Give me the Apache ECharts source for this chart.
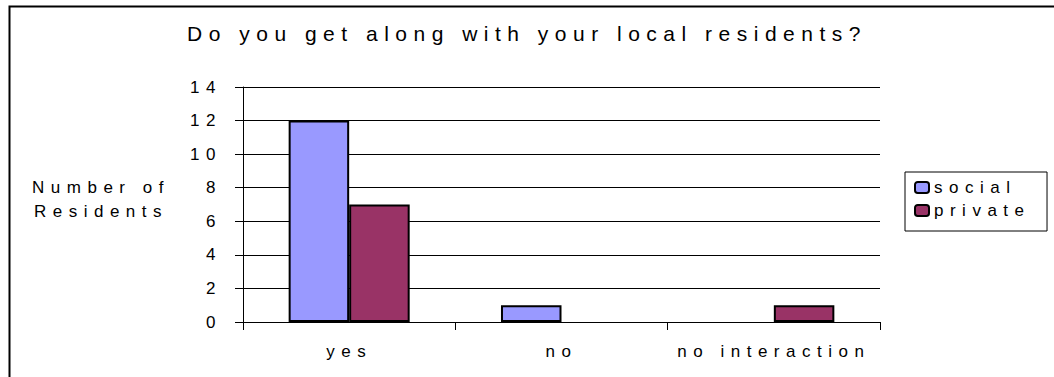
<!DOCTYPE html>
<html>
<head>
<meta charset="utf-8">
<script src="https://cdn.jsdelivr.net/npm/echarts@6/dist/echarts.min.js"></script>
<style>
  html, body { margin: 0; padding: 0; background: #fff; }
  #chart { width: 1054px; height: 377px; }
  /* wide tracking on every label, as in the spreadsheet-style chart */
  #chart svg text { letter-spacing: 6.5px; }
</style>
</head>
<body>
<div id="chart"></div>
<script>
const chartTitle = 'Do you get along with your local residents?';
const yAxisTitle = 'Number of\nResidents';
const categories = ['yes', 'no', 'no interaction'];
const seriesNames = ['social', 'private'];
const socialValues = [12, 1, 0];
const privateValues = [7, 0, 1];
const yTicks = { min: 0, max: 14, interval: 2 };

const FONT = "'Liberation Sans', Arial, sans-serif";
const INK = '#000';

// zero-height bars get no outline, so nothing is drawn for them
const asBars = (values) => values.map(v => (
  v === 0 ? { value: v, itemStyle: { borderWidth: 0 } } : v
));

const chart = echarts.init(document.getElementById('chart'), null, { renderer: 'svg' });

chart.setOption({
  animation: false,
  backgroundColor: '#fff',
  textStyle: { fontFamily: FONT, color: INK },
  title: {
    text: chartTitle,
    left: 'center',
    top: 18,
    textStyle: { fontFamily: FONT, fontSize: 21, fontWeight: 'normal', color: INK }
  },
  graphic: [
    {
      // outer frame of the chart area
      type: 'rect',
      left: 7, top: 4,
      shape: { width: 1200, height: 600 },
      style: { fill: 'none', stroke: INK, lineWidth: 2 },
      silent: true, z: 100
    },
    {
      // value-axis caption, two lines, left of the tick labels
      type: 'text',
      x: 101, y: 199,
      style: {
        text: yAxisTitle,
        align: 'center',
        verticalAlign: 'middle',
        lineHeight: 24,
        font: "17px 'Liberation Sans', Arial, sans-serif",
        fill: INK
      },
      silent: true
    }
  ],
  legend: {
    orient: 'vertical',
    left: 905,
    top: 172,
    padding: [7, 62, 12, 9],
    itemGap: 6,
    itemWidth: 14,
    itemHeight: 11,
    borderColor: INK,
    borderWidth: 1,
    textStyle: { fontFamily: FONT, fontSize: 17, color: INK },
    data: seriesNames
  },
  grid: { left: 243, right: 174, top: 87, bottom: 55, containLabel: false },
  xAxis: {
    type: 'category',
    data: categories,
    axisLine: { lineStyle: { color: INK, width: 1 } },
    axisTick: { show: true, length: 8, alignWithLabel: false, lineStyle: { color: INK } },
    axisLabel: { margin: 21, fontFamily: FONT, fontSize: 17, color: INK }
  },
  yAxis: {
    type: 'value',
    min: yTicks.min,
    max: yTicks.max,
    interval: yTicks.interval,
    axisLine: { show: true, lineStyle: { color: INK, width: 1 } },
    axisTick: { show: true, length: 8, lineStyle: { color: INK } },
    axisLabel: { margin: 21, fontFamily: FONT, fontSize: 17, color: INK },
    splitLine: { show: true, lineStyle: { color: INK, width: 1 } }
  },
  series: [
    {
      name: seriesNames[0],
      type: 'bar',
      data: asBars(socialValues),
      barGap: '0%',
      barCategoryGap: '43%',
      itemStyle: { color: '#9999FF', borderColor: INK, borderWidth: 2 }
    },
    {
      name: seriesNames[1],
      type: 'bar',
      data: asBars(privateValues),
      itemStyle: { color: '#993366', borderColor: INK, borderWidth: 2 }
    }
  ]
});
</script>
</body>
</html>
